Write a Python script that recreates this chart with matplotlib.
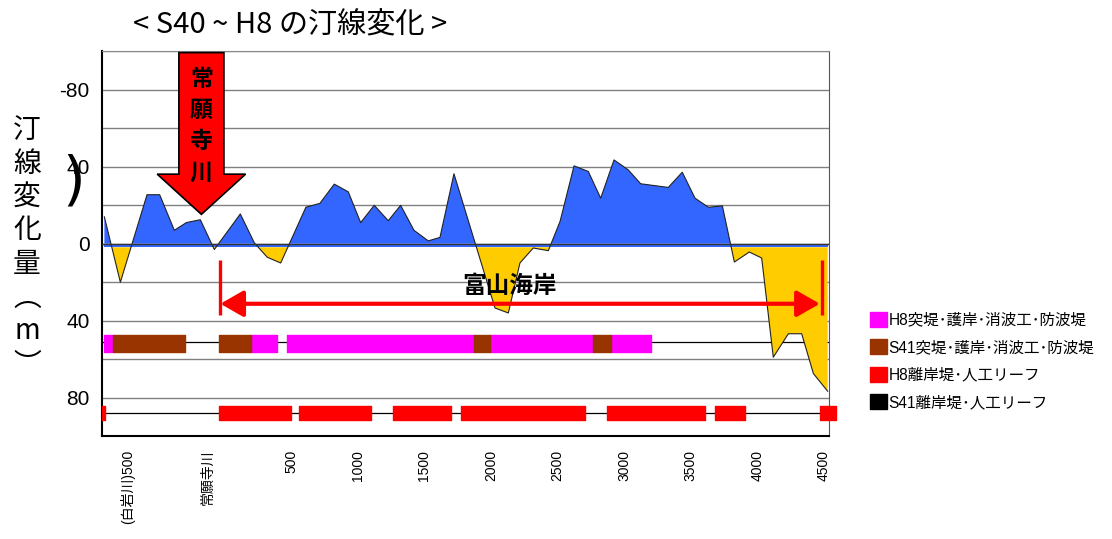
import numpy as np
import matplotlib
matplotlib.use("Agg")
import matplotlib.pyplot as plt
from matplotlib.patches import FancyArrow, FancyArrowPatch, ArrowStyle, Patch

plt.rcParams["font.family"] = ["Liberation Sans", "Noto Sans CJK JP", "DejaVu Sans"]
JP = ["Noto Sans CJK JP", "DejaVu Sans"]

BLUE, YELLOW = "#3366FF", "#FFCC00"
MAGENTA, BROWN, RED = "#FF00FF", "#993300", "#FF0000"

# distance along the coast (m) and shoreline change S40 -> H8 (m), negative drawn upward
dist = [-900, -780, -580, -485, -375, -285, -180, -75, 120, 225, 322, 423,
        612, 717, 825, 930, 1023, 1125, 1230, 1323, 1423, 1530, 1618, 1723,
        2031, 2131, 2218, 2318, 2431, 2519, 2624, 2731, 2824, 2924, 3031, 3124,
        3331, 3436, 3532, 3632, 3737, 3827, 3939, 4032, 4119, 4232, 4332, 4420, 4527]
change = [-14, 20, -25.5, -25.5, -7, -11, -12.5, 3, -15.5, -0.5, 7, 10,
          -19, -21, -31, -27, -11, -20, -12, -20, -7, -1.5, -3.3, -36.4,
          33.4, 36, 10, 2.2, 3.6, -11.6, -40.5, -37.6, -23.7, -43.6, -38.4, -31.2,
          -29.3, -37.2, -23.7, -19, -19.7, 9.5, 4.3, 7.4, 59, 46.8, 46.8, 67.5, 76.7]

# coastal structures (start, end) in m
h8_groins = [(-905, -836), (200, 395), (474, 1870), (1997, 2766), (2902, 3202)]
s41_groins = [(-836, -296), (-41, 200), (1870, 1997), (2766, 2902)]
h8_detached = [(-915, -895), (-40, 500), (560, 1100), (1265, 1700), (1775, 2705),
               (2870, 3605), (3680, 3905), (4470, 4590)]
s41_detached = []

tick_pos = [-723, -123, 500, 1000, 1500, 2000, 2500, 3000, 3500, 4000, 4500]
tick_lbl = ["(白岩川)500", "常願寺川", "500", "1000", "1500", "2000", "2500",
            "3000", "3500", "4000", "4500"]
legend_lbl = ["H8突堤･護岸･消波工･防波堤", "S41突堤･護岸･消波工･防波堤",
              "H8離岸堤･人工リーフ", "S41離岸堤･人工リーフ"]

x = np.array(dist, float)
v = np.array(change, float)

fig = plt.figure(figsize=(11.12, 5.39), dpi=100)
ax = fig.add_axes([0.0917, 0.191, 0.6538, 0.7135])
ax.set_xlim(-918, 4537)
ax.set_ylim(100, -100)

# grid
ax.set_yticks([-80, -40, 0, 40, 80])
ax.set_yticklabels(["-80", "40", "0", "40", "80"], fontsize=15)
ax.set_yticks([-100, -60, -20, 20, 60, 100], minor=True)
ax.grid(axis="y", which="both", color="#808080", lw=1, zorder=0)
ax.tick_params(axis="y", which="both", length=0, pad=9)

# area chart
band = 1.8
ax.fill_between(x, v, 0, where=v < 0, interpolate=True, color=BLUE, lw=0, zorder=2)
ax.fill_between(x, 0, band, color=BLUE, lw=0, zorder=2)
ax.fill_between(x, v, band, where=v > band, interpolate=True, color=YELLOW, lw=0, zorder=2)
ax.plot(x, v, color="#222222", lw=0.8, zorder=3)
ax.axhline(0, color="#333333", lw=1, zorder=3)

# structure rows
row1, row2 = 52, 88
ax.axhline(51, color="black", lw=0.9, zorder=1.5)
ax.axhline(row2, color="black", lw=0.9, zorder=1.5)
ax.broken_barh([(a, b - a) for a, b in h8_groins], (row1 - 4.3, 8.6), color=MAGENTA, zorder=4)
ax.broken_barh([(a, b - a) for a, b in s41_groins], (row1 - 4.3, 8.6), color=BROWN, zorder=4)
bars = ax.broken_barh([(a, b - a) for a, b in h8_detached], (row2 - 3.8, 7.6), color=RED, zorder=4)
bars.set_clip_on(False)
if s41_detached:
    ax.broken_barh([(a, b - a) for a, b in s41_detached], (row2 - 3.8, 7.6), color="black", zorder=4)

# x axis
ax.set_xticks(tick_pos)
ax.set_xticklabels(tick_lbl, rotation=90, fontsize=10, va="top", ha="center")
ax.tick_params(axis="x", length=0, pad=10)
for s in ["left", "bottom"]:
    ax.spines[s].set_color("black")
    ax.spines[s].set_linewidth(1.5)
ax.spines["right"].set_color("#555555")
ax.spines["top"].set_color("#888888")

# river arrow
ax.add_patch(FancyArrow(-172, -99.4, 0, 84.1, width=338, head_width=663, head_length=20.9,
                        length_includes_head=True, fc=RED, ec="black", lw=1.2,
                        zorder=7, clip_on=False))
for i, ch in enumerate("常願寺川"):
    ax.text(-172, -85.5 + 16.2 * i, ch, ha="center", va="center", fontsize=16.5,
            fontweight="bold", family=JP, zorder=8)

# Toyama coast span
c0, c1 = -30, 4483
ax.vlines([c0, c1], 8.3, 36.9, color=RED, lw=2.4, zorder=6)
ax.add_patch(FancyArrowPatch((c0, 31.2), (c1 - 15, 31.2),
                             arrowstyle=ArrowStyle("<|-|>", head_length=14, head_width=8),
                             mutation_scale=1, color=RED, lw=3, shrinkA=0, shrinkB=0, zorder=6))
ax.text(2143, 21.8, "富山海岸", ha="center", va="center", fontsize=17,
        fontweight="bold", family=JP, zorder=8)

# titles and labels
fig.text(290 / 1112, 1 - 25 / 539, "< S40 ~ H8 の汀線変化 >", ha="center", va="center",
         fontsize=21, family=JP)
for i, ch in enumerate("汀線変化量︵m︶"):
    fig.text(27 / 1112, 1 - (130 + 33.5 * i) / 539, ch, ha="center", va="center",
             fontsize=20, family=JP)
fig.text(74 / 1112, 1 - 182 / 539, ")", ha="center", va="center", fontsize=42,
         family="DejaVu Sans")

handles = [Patch(color=c) for c in [MAGENTA, BROWN, RED, "black"]]
fig.legend(handles, legend_lbl, loc="upper left", bbox_to_anchor=(870 / 1112, 1 - 312 / 539),
           frameon=False, fontsize=11.2, handlelength=1.1, handleheight=1.1,
           handletextpad=0.1, labelspacing=0.75, borderpad=0, borderaxespad=0)

fig.savefig("out.png", dpi=100)
